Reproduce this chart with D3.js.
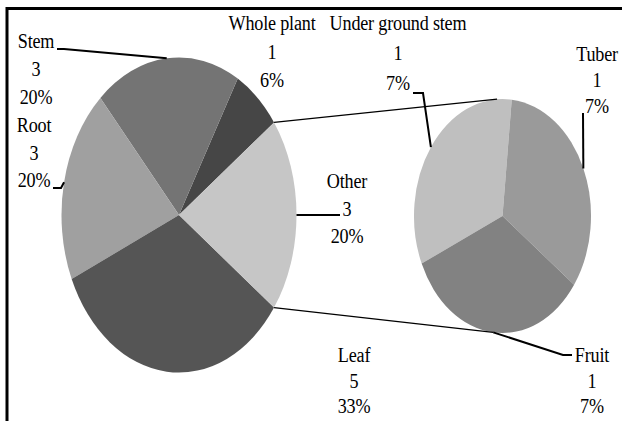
<!DOCTYPE html>
<html><head><meta charset="utf-8">
<script src="https://cdn.jsdelivr.net/npm/d3@7"></script>
<style>html,body{margin:0;padding:0;background:#fff;}svg{display:block;}
text{font-family:"Liberation Serif","Times New Roman",Times,serif;}</style>
</head><body>
<script>
// ---- data ----
const mainCategories = ["Whole plant", "Stem", "Root", "Leaf", "Other"];
const mainValues = [1, 3, 3, 5, 3];
const mainPercents = ["6%", "20%", "20%", "33%", "20%"];
const mainColors = ["#464646", "#747474", "#a0a0a0", "#555555", "#c6c6c6"];

const subCategories = ["Under ground stem", "Tuber", "Fruit"];
const subValues = [1, 1, 1];
const subPercents = ["7%", "7%", "7%"];
const subColors = ["#bfbfbf", "#9a9a9a", "#828282"];

// ---- layout ----
const W = 622, H = 421;
const svg = d3.select("body").append("svg").attr("width", W).attr("height", H);
const deg = Math.PI / 180;
const R = 100;

const mainGeo = {cx: 179, cy: 215, rx: 117.5, ry: 157.5};
const subGeo = {cx: 502.5, cy: 216, rx: 88.5, ry: 117};

// frame (top and left only)
svg.append("line").attr("x1", 6).attr("x2", W).attr("y1", 8.5).attr("y2", 8.5).attr("stroke", "#000").attr("stroke-width", 3);
svg.append("line").attr("x1", 7).attr("x2", 7).attr("y1", 7).attr("y2", H).attr("stroke", "#000").attr("stroke-width", 3);

const arc = d3.arc().innerRadius(0).outerRadius(R);

// main pie: counter-clockwise from 54deg so "Other" is centred at 90deg
const mainPie = d3.pie().sort(null).value(d => d).startAngle(54 * deg).endAngle(54 * deg - 2 * Math.PI);
const mainArcs = mainPie(mainValues);

const subPie = d3.pie().sort(null).value(d => d).startAngle(-114 * deg).endAngle(-114 * deg + 2 * Math.PI);
const subArcs = subPie(subValues);

function drawPie(geo, arcs, colors) {
  const g = svg.append("g").attr("transform", `translate(${geo.cx},${geo.cy}) scale(${geo.rx / R},${geo.ry / R})`);
  g.selectAll("path").data(arcs).join("path")
    .attr("d", arc).attr("fill", (d, i) => colors[i]);
}
drawPie(mainGeo, mainArcs, mainColors);
drawPie(subGeo, subArcs, subColors);

function edge(geo, a) {
  return [geo.cx + geo.rx * Math.sin(a), geo.cy - geo.ry * Math.cos(a)];
}
const mid = d => (d.startAngle + d.endAngle) / 2;

// connector lines between the "Other" slice and the secondary pie
const other = mainArcs[4];
const conn = [
  [edge(mainGeo, other.endAngle), edge(subGeo, -3.5 * deg)],
  [edge(mainGeo, other.startAngle), edge(subGeo, 186 * deg)]
];
svg.selectAll(".conn").data(conn).join("line").attr("class", "conn")
  .attr("x1", d => d[0][0]).attr("y1", d => d[0][1])
  .attr("x2", d => d[1][0]).attr("y2", d => d[1][1])
  .attr("stroke", "#000").attr("stroke-width", 1.3);

// labels
const labels = [
  {lines: [mainCategories[0], mainValues[0], mainPercents[0]], x: 272, y: 30, gap: 28.5},
  {lines: [mainCategories[1], mainValues[1], mainPercents[1]], x: 36, y: 48, gap: 28, leader: {arc: mainArcs[1], geo: mainGeo, pts: [[64, 49], [57, 49]]}},
  {lines: [mainCategories[2], mainValues[2], mainPercents[2]], x: 34, y: 132, gap: 27.5, leader: {arc: mainArcs[2], geo: mainGeo, pts: [[61, 188], [53, 188]]}},
  {lines: [mainCategories[3], mainValues[3], mainPercents[3]], x: 354, y: 362, gap: 25.5},
  {lines: [mainCategories[4], mainValues[4], mainPercents[4]], x: 347, y: 188, gap: 27.5, leader: {arc: mainArcs[4], geo: mainGeo, pts: [[340, 215]]}},
  {lines: [subCategories[0], subValues[0], subPercents[0]], x: 398, y: 30, gap: 30, leader: {arc: subArcs[0], geo: subGeo, pts: [[423, 93], [413, 93]]}},
  {lines: [subCategories[1], subValues[1], subPercents[1]], x: 597, y: 61, gap: 26, leader: {arc: subArcs[1], geo: subGeo, pts: [[583, 113]]}},
  {lines: [subCategories[2], subValues[2], subPercents[2]], x: 592, y: 362, gap: 25.5, leader: {arc: subArcs[2], geo: subGeo, pts: [[563, 355], [572, 355]]}}
];

const sx = 0.93, sy = 1.12;
labels.forEach(l => {
  l.lines.forEach((s, i) => {
    const y = l.y + i * l.gap;
    svg.append("text")
      .attr("transform", `translate(${l.x},${y}) scale(${sx},${sy})`)
      .attr("text-anchor", "middle").attr("font-size", 19.5)
      .attr("letter-spacing", -0.2).attr("fill", "#000").text(s);
  });
  if (l.leader) {
    const p0 = edge(l.leader.geo, mid(l.leader.arc));
    svg.append("path").attr("d", d3.line()([p0, ...l.leader.pts]))
      .attr("fill", "none").attr("stroke", "#000").attr("stroke-width", 2);
  }
});
</script>
</body></html>
